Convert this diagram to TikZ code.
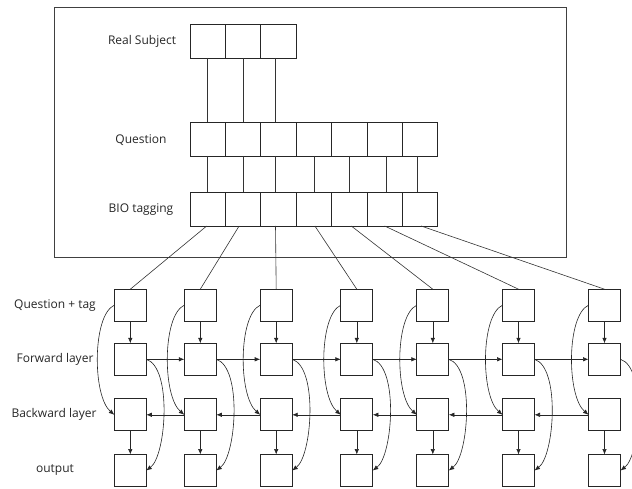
\documentclass[tikz,border=0pt]{standalone}
\usepackage{fontspec}
\setmainfont{Open Sans}
\usetikzlibrary{arrows.meta}
\begin{document}
\begin{tikzpicture}[x=1pt,y=-1pt,
  cell/.style={draw=black!85, line width=0.8pt, minimum width=35.4pt, minimum height=34pt, inner sep=0pt, outer sep=0pt},
  unit/.style={draw=black!85, line width=0.8pt, minimum width=32pt, minimum height=32pt, inner sep=0pt, outer sep=0pt},
  lab/.style={font=\fontsize{12}{14}\selectfont, text=black!85, inner sep=0pt},
  frame/.style={draw=black!75, line width=0.8pt},
  wire/.style={draw=black!80, line width=0.6pt},
  arr/.style={draw=black!85, line width=0.6pt, -{Latex[length=5.5pt,width=4.5pt]}},
]
\useasboundingbox (0,0) rectangle (632,489);

% outer frame around the token rows
\draw[frame] (54,7.3) rectangle (566.7,257.7);

% token rows
\foreach \i in {1,...,3}
  \node[cell] (rs\i) at ({190+35.4*(\i-0.5)},41) {};
\foreach \i in {1,...,7}{
  \node[cell] (q\i) at ({190+35.4*(\i-0.5)},139) {};
  \node[cell] (b\i) at ({190+35.4*(\i-0.5)},209) {};
}

% row labels
\node[lab] (lrs) at (142,41) {Real Subject};
\node[lab] (lq)  at (141,140) {Question};
\node[lab] (lb)  at (141,210) {BIO tagging};
\node[lab] (lt)  at (55,306) {Question + tag};
\node[lab] (lf)  at (55,359) {Forward layer};
\node[lab] (lw)  at (54,414) {Backward layer};
\node[lab] (lo)  at (55,470) {output};

% links between token rows
\foreach \i/\d in {1/0,2/0,3/-3}
  \draw[wire] ([xshift=\d pt]rs\i.south) -- ([xshift=\d pt]q\i.north);
\foreach \i/\d in {1/0,2/0,3/-3,4/0,5/0,6/2,7/-3}
  \draw[wire] ([xshift=\d pt]q\i.south) -- ([xshift=\d pt]b\i.north);

% BiLSTM columns
\foreach \i/\x in {1/130.3,2/200.3,3/276.2,4/356.8,5/432.8,6/518.5,7/604.5}{
  \node[unit] (t\i) at (\x,305.2) {};
  \node[unit] (f\i) at (\x,359.3) {};
  \node[unit] (w\i) at (\x,414.8) {};
  \node[unit] (o\i) at (\x,470.5) {};
}

% tags feed the input units
\foreach \i/\d in {1/-1,2/-4,3/-3,4/1,5/2,6/0,7/1}
  \draw[wire] ([xshift=\d pt]b\i.south) -- (t\i.north);

% vertical flow in each column
\foreach \i in {1,...,7}{
  \draw[arr] (t\i.south) -- (f\i.north);
  \draw[arr] (w\i.south) -- (o\i.north);
  \draw[arr] (t\i.west) .. controls +(-22,10) and +(-22,-19) .. (w\i.west);
  \draw[arr] (f\i.east) .. controls +(26,8) and +(20,-15) .. (o\i.east);
}

% recurrent links
\foreach \i [count=\j from 2] in {1,...,6}{
  \draw[arr] (f\i.east) -- (f\j.west);
  \draw[arr] (w\j.west) -- (w\i.east);
}
\end{tikzpicture}
\end{document}
